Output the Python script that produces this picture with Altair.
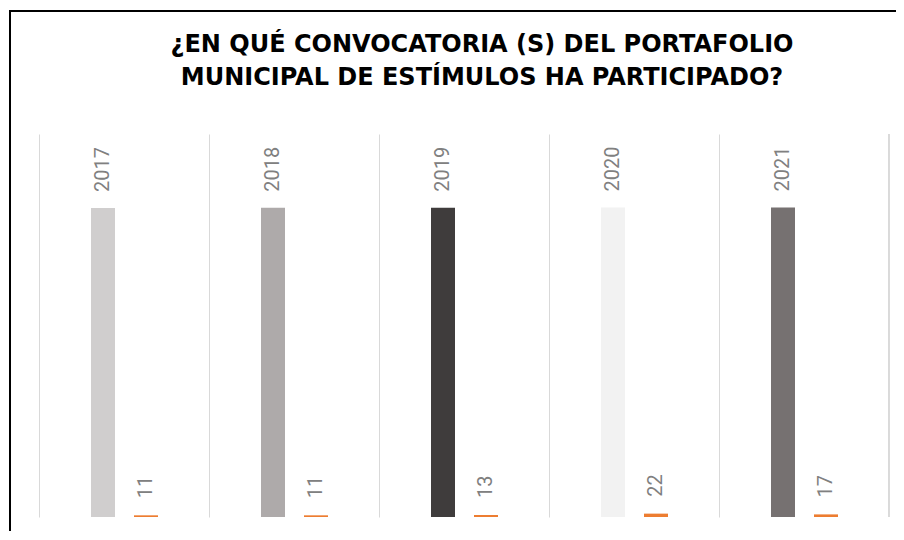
import altair as alt
import pandas as pd

# Data
years = ["2017", "2018", "2019", "2020", "2021"]
year_values = [2017, 2018, 2019, 2020, 2021]
counts = [11, 11, 13, 22, 17]

# Styles
year_colors = ["#d0cece", "#aeaaaa", "#3f3c3c", "#f2f2f2", "#767171"]
orange = "#ed7d31"
label_color = "#808080"
grid_color = "#d9d9d9"

df = pd.DataFrame({"anio": years, "valor": year_values, "cantidad": counts})

W, H = 850, 383

x_enc = alt.X(
    "anio:N",
    sort=years,
    scale=alt.Scale(paddingInner=0, paddingOuter=0),
    axis=alt.Axis(title=None, labels=False, ticks=False, domain=False,
                  grid=True, gridColor=grid_color, gridWidth=1, bandPosition=0),
)
y_scale = alt.Scale(domain=[0, 2500], nice=False, zero=True)

base = alt.Chart(df).encode(x=x_enc)

grey_bars = base.mark_bar(width=24, xOffset=-21).encode(
    y=alt.Y("valor:Q", scale=y_scale, axis=None),
    color=alt.Color("anio:N", scale=alt.Scale(domain=years, range=year_colors), legend=None),
)
orange_bars = base.mark_bar(width=24, xOffset=22, color=orange).encode(
    y=alt.Y("cantidad:Q", scale=y_scale, axis=None),
)
year_labels = base.mark_text(
    angle=270, align="left", baseline="middle", dx=16, xOffset=-21,
    font="Roboto", fontSize=20, color=label_color,
).encode(y=alt.Y("valor:Q", scale=y_scale, axis=None), text="anio:N")
count_labels = base.mark_text(
    angle=270, align="left", baseline="middle", dx=17, xOffset=22,
    font="Roboto", fontSize=20, color=label_color,
).encode(y=alt.Y("cantidad:Q", scale=y_scale, axis=None), text="cantidad:Q")

right_grid = alt.Chart(df).mark_rule(color=grid_color, strokeWidth=1).encode(
    x=alt.value(W), y=alt.value(0), y2=alt.value(H)
)
frame_left = alt.Chart(df).mark_rule(color="#000000", strokeWidth=2, clip=False).encode(
    x=alt.value(-29), y=alt.value(-123), y2=alt.value(H + 40)
)
frame_top = alt.Chart(df).mark_rule(color="#000000", strokeWidth=1.5, clip=False).encode(
    x=alt.value(-30), x2=alt.value(W + 40), y=alt.value(-123)
)

chart = alt.layer(
    right_grid, grey_bars, orange_bars, year_labels, count_labels, frame_left, frame_top
).properties(
    width=W,
    height=H,
    autosize="none",
    padding={"left": 31, "top": 126, "right": 7, "bottom": 14},
    background="white",
    title=alt.Title(
        ["¿EN QUÉ CONVOCATORIA (S) DEL PORTAFOLIO", "MUNICIPAL DE ESTÍMULOS HA PARTICIPADO?"],
        font="DejaVu Sans", fontSize=24, fontWeight="bold", color="#000000",
        lineHeight=33, anchor="middle", dx=18, offset=-80, baseline="top", frame="group",
    ),
).configure_view(stroke=None)

chart.save("out.html", embed_options={"renderer": "svg", "actions": False})
